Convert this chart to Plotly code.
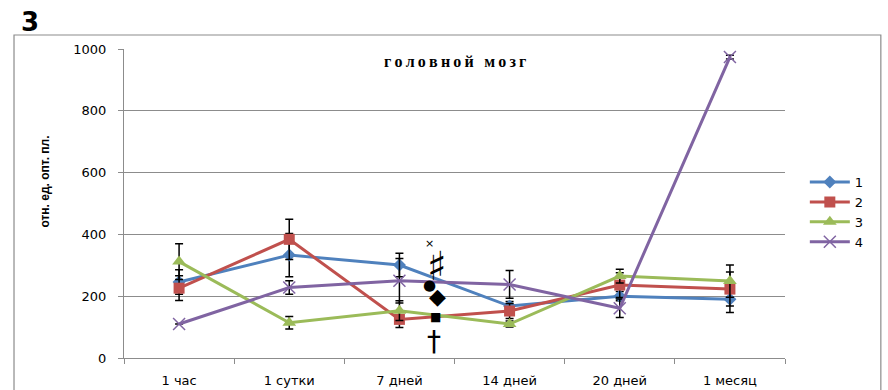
import plotly.graph_objects as go

# Time points after exposure
categories = ["1 час", "1 сутки", "7 дней", "14 дней", "20 дней", "1 месяц"]

# Group means (rel. units of optical density)
g1 = [246, 333, 301, 168, 200, 190]
g2 = [226, 384, 125, 152, 236, 223]
g3 = [312, 114, 153, 110, 265, 249]
g4 = [110, 228, 250, 238, 161, 974]

# Error half-widths
e1 = [40, 70, 38, 15, 15, 43]
e2 = [40, 65, 26, 24, 40, 55]
e3 = [58, 20, 32, 10, 22, 52]
e4 = [0, 22, 72, 45, 30, 6]

series_names = ["1", "2", "3", "4"]
colors = ["#4F81BD", "#C0504D", "#9BBB59", "#8064A2"]
symbols = ["diamond", "square", "triangle-up", "x-thin-open"]
sizes = [10, 11, 12, 12]

# Significance marks near the 7-day point
sig_marks = ["×", "♯", "●", "◆", "■", "†"]
sig_x = [2.27, 2.34, 2.27, 2.35, 2.33, 2.31]
sig_y = [371, 298, 237, 198, 133, 55]
sig_size = [11, 40, 15, 22, 12, 28]

fig = go.Figure()
for name, vals, errs, col, sym, sz in zip(series_names, [g1, g2, g3, g4], [e1, e2, e3, e4],
                                          colors, symbols, sizes):
    marker = dict(symbol=sym, size=sz, color=col)
    if sym == "x-thin-open":
        marker["line"] = dict(color=col, width=1.5)
    fig.add_trace(go.Scatter(
        x=categories, y=vals, name=name, mode="lines+markers",
        line=dict(color=col, width=3),
        marker=marker,
        error_y=dict(type="data", array=errs, visible=True,
                     color="black", thickness=1.5, width=4),
    ))

for s, xv, yv, fs in zip(sig_marks, sig_x, sig_y, sig_size):
    fig.add_annotation(x=xv, y=yv, xref="x", yref="y", text=s, showarrow=False,
                       font=dict(family="DejaVu Sans", size=fs, color="black"))

# Chart title inside plot area (letter-spaced)
title_text = "\u2009".join("головной мозг")
fig.add_annotation(x=0.5, y=0.958, xref="paper", yref="paper",
                   xanchor="center", yanchor="middle",
                   text="<b>" + title_text + "</b>", showarrow=False,
                   font=dict(family="Liberation Serif", size=16, color="black"))

# Y-axis title placed beside the axis
fig.add_annotation(x=-0.12, y=0.57, xref="paper", yref="paper", xanchor="center",
                   yanchor="middle",
                   text="<b>отн. ед. опт. пл.</b>", showarrow=False, textangle=-90,
                   font=dict(family="Liberation Sans Narrow, Liberation Sans", size=12,
                             color="black"))

# Panel label
fig.add_annotation(x=-0.159, y=1.087, xref="paper", yref="paper", text="<b>3</b>",
                   showarrow=False, xanchor="left", yanchor="middle",
                   font=dict(family="DejaVu Sans", size=26, color="black"))

# Outer chart frame
fig.add_shape(type="rect", xref="paper", yref="paper",
              x0=-0.1664, x1=1.145, y0=-0.12, y1=1.0453,
              line=dict(color="#8c8c8c", width=1.2), fillcolor="rgba(0,0,0,0)")

fig.update_layout(
    width=888, height=390,
    margin=dict(l=124, r=103, t=49, b=32, autoexpand=False),
    paper_bgcolor="white", plot_bgcolor="white",
    showlegend=True,
    legend=dict(x=1.03, y=0.618, xanchor="left", yanchor="top",
                font=dict(family="DejaVu Sans", size=13, color="black"),
                bgcolor="rgba(0,0,0,0)", tracegroupgap=0, itemwidth=40),
    font=dict(family="DejaVu Sans", color="black"),
)

fig.update_xaxes(
    type="category", range=[-0.5, 5.5], showgrid=False, showline=True,
    linecolor="#8c8c8c", linewidth=1.2,
    ticks="outside", tickson="boundaries", ticklen=5, tickcolor="#8c8c8c",
    tickfont=dict(family="DejaVu Sans", size=13, color="black"),
    ticklabelstandoff=10, zeroline=False, automargin=False,
)
fig.update_yaxes(
    range=[0, 1000], dtick=200, tick0=0, showgrid=True, gridcolor="#8c8c8c", gridwidth=1,
    showline=True, linecolor="#8c8c8c", linewidth=1.2, ticks="outside", ticklen=5,
    tickcolor="#8c8c8c", zeroline=False, automargin=False,
    tickfont=dict(family="DejaVu Sans", size=13, color="black"),
    ticklabelstandoff=9,
)

fig.write_html("out.html")
